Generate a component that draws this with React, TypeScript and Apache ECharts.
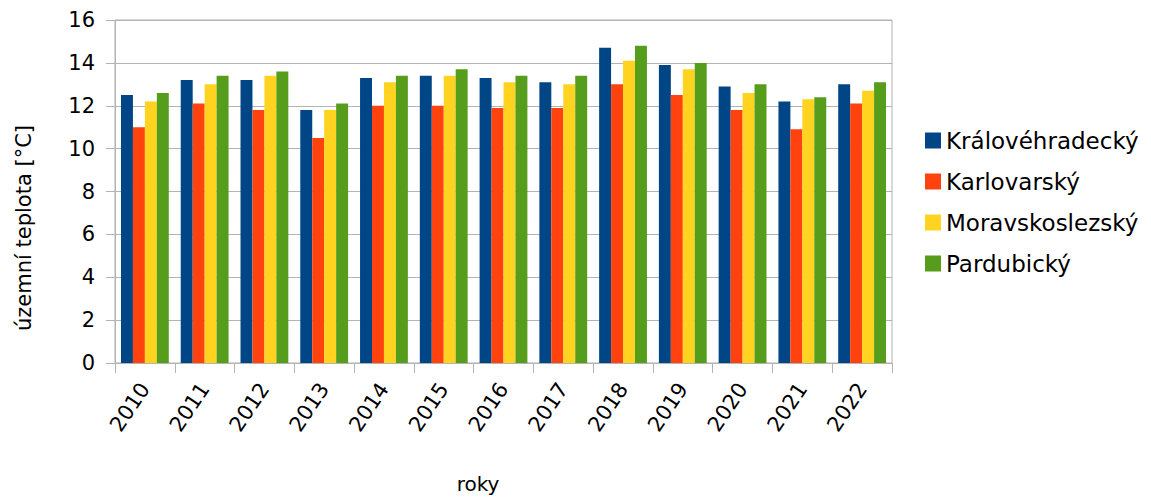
import React, { useEffect, useRef } from "react";
import * as echarts from "echarts";

const years = ["2010", "2011", "2012", "2013", "2014", "2015", "2016", "2017", "2018", "2019", "2020", "2021", "2022"];
const kralovehradecky = [12.5, 13.2, 13.2, 11.8, 13.3, 13.4, 13.3, 13.1, 14.7, 13.9, 12.9, 12.2, 13.0];
const karlovarsky = [11.0, 12.1, 11.8, 10.5, 12.0, 12.0, 11.9, 11.9, 13.0, 12.5, 11.8, 10.9, 12.1];
const moravskoslezsky = [12.2, 13.0, 13.4, 11.8, 13.1, 13.4, 13.1, 13.0, 14.1, 13.7, 12.6, 12.3, 12.7];
const pardubicky = [12.6, 13.4, 13.6, 12.1, 13.4, 13.7, 13.4, 13.4, 14.8, 14.0, 13.0, 12.4, 13.1];
const yTicks = [0, 2, 4, 6, 8, 10, 12, 14, 16];

const seriesDefs = [
  { name: "Královéhradecký", data: kralovehradecky, color: "#004586" },
  { name: "Karlovarský", data: karlovarsky, color: "#ff420e" },
  { name: "Moravskoslezský", data: moravskoslezsky, color: "#ffd320" },
  { name: "Pardubický", data: pardubicky, color: "#579d1c" },
];

const FONT = "DejaVu Sans";
const yTitle = "územní teplota [°C]";
const xTitle = "roky";

export default function App() {
  const ref = useRef<HTMLDivElement>(null);
  useEffect(() => {
    document.body.style.margin = "0";
    const chart = echarts.init(ref.current!, undefined, { renderer: "svg" });
    chart.setOption({
      animation: false,
      textStyle: { fontFamily: FONT },
      grid: {
        left: 115,
        top: 20,
        width: 777,
        height: 343,
        containLabel: false,
        outerBoundsMode: "none",
        show: true,
        borderColor: "#b3b3b3",
        borderWidth: 1,
      },
      legend: {
        orient: "vertical",
        left: 920,
        top: 124,
        padding: 5,
        itemWidth: 16,
        itemHeight: 16,
        itemGap: 18,
        icon: "rect",
        textStyle: { fontSize: 23, color: "#000", fontFamily: FONT },
        data: seriesDefs.map((s) => s.name),
      },
      graphic: [
        {
          type: "text",
          x: 24,
          y: 228,
          rotation: Math.PI / 2,
          style: {
            text: yTitle,
            fontSize: 21,
            fontFamily: FONT,
            fill: "#000",
            align: "center",
            verticalAlign: "middle",
          },
        },
        {
          type: "text",
          x: 478,
          y: 484,
          style: {
            text: xTitle,
            fontSize: 20,
            fontFamily: FONT,
            fill: "#000",
            align: "center",
            verticalAlign: "middle",
          },
        },
      ],
      xAxis: {
        type: "category",
        data: years,
        axisLine: { lineStyle: { color: "#b3b3b3" } },
        axisTick: { show: true, length: 10, lineStyle: { color: "#b3b3b3" } },
        axisLabel: { rotate: 56, fontSize: 21, color: "#000", margin: 22, fontFamily: FONT },
      },
      yAxis: {
        type: "value",
        min: yTicks[0],
        max: yTicks[yTicks.length - 1],
        interval: 2,
        axisLine: { show: true, lineStyle: { color: "#b3b3b3" } },
        axisTick: { show: true, length: 9, lineStyle: { color: "#b3b3b3" } },
        axisLabel: { fontSize: 21, color: "#000", margin: 20, fontFamily: FONT },
        splitLine: { lineStyle: { color: "#b3b3b3" } },
      },
      series: seriesDefs.map((s) => ({
        type: "bar",
        name: s.name,
        data: s.data,
        itemStyle: { color: s.color },
        barGap: "0%",
        barCategoryGap: "20%",
      })),
    });
    return () => chart.dispose();
  }, []);
  return <div ref={ref} style={{ width: 1151, height: 497 }} />;
}
